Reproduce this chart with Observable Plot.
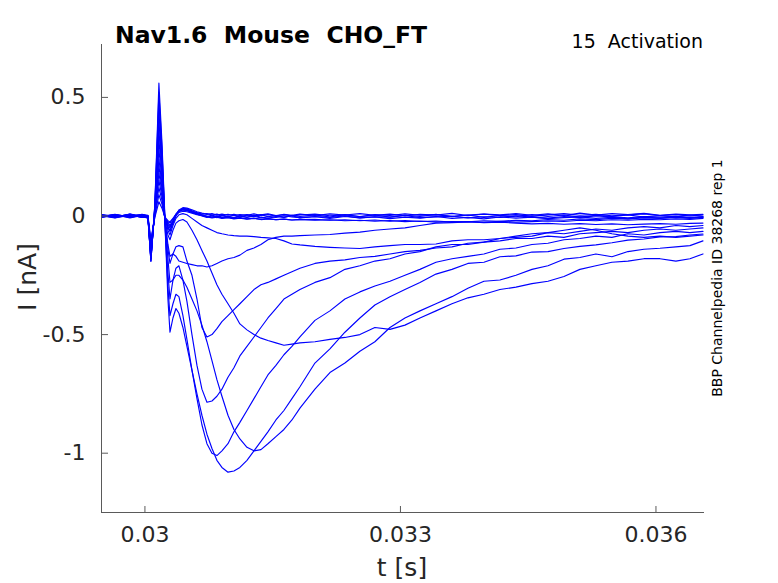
<!DOCTYPE html>
<html><head><meta charset="utf-8">
<script src="https://cdn.jsdelivr.net/npm/d3@7"></script>
<script src="https://cdn.jsdelivr.net/npm/@observablehq/plot@0.6"></script>
<style>body{margin:0;background:#fff}</style>
</head><body><div id="chart"></div>
<script>
// time samples (s)
const tGrid = [0.029483, 0.029648, 0.029824, 0.029965,
  0.030035, 0.030070, 0.030117, 0.030164, 0.030200, 0.030235, 0.030270, 0.030294, 0.030329, 0.030364, 0.030399, 0.030446, 0.030493,
  0.030552, 0.030611, 0.030669, 0.030728, 0.030787, 0.030845, 0.030904, 0.030975, 0.031045, 0.031115, 0.031198, 0.031280, 0.031362, 0.031444, 0.031538, 0.031632, 0.031726, 0.031820,
  0.031996, 0.032172, 0.032348, 0.032524, 0.032700, 0.032877, 0.033053, 0.033229, 0.033417, 0.033605, 0.033792, 0.033980, 0.034168, 0.034356, 0.034544, 0.034732, 0.034920, 0.035107, 0.035295, 0.035483, 0.035671, 0.035859, 0.036047, 0.036234, 0.036399, 0.036552];

// current sweeps (nA)
const sweep01 = [0.004, -0.006, 0.008, -0.003,
  0.002, -0.100, -0.005, 0.060, 0.033, -0.005, -0.020, -0.025, -0.010, 0.005, 0.015, 0.020, 0.018,
  0.012, 0.006, 0.002, -0.003, 0.004, -0.002, 0.005, -0.004, 0.003, -0.005, 0.004, -0.002, 0.006, -0.003, 0.002, -0.006, 0.003, -0.002,
  0.005, -0.004, 0.006, -0.003, 0.004, -0.005, 0.003, -0.002, 0.007, -0.003, 0.004, -0.006, 0.002, -0.003, 0.006, -0.002, 0.004, -0.005, 0.003, -0.002, 0.005, -0.004, 0.002, -0.003, 0.004, -0.002];
const sweep02 = [-0.003, 0.005, -0.008, 0.002,
  -0.004, -0.110, 0.000, 0.090, 0.050, -0.010, -0.025, -0.030, -0.012, 0.008, 0.020, 0.026, 0.022,
  0.015, 0.008, 0.000, -0.006, 0.002, -0.007, 0.001, -0.004, -0.009, 0.000, -0.006, 0.003, -0.005, -0.010, -0.002, -0.006, 0.001, -0.008,
  -0.003, -0.010, -0.002, -0.008, -0.004, -0.011, -0.005, -0.009, -0.002, -0.010, -0.006, -0.012, -0.004, -0.009, -0.005, -0.011, -0.007, -0.004, -0.010, -0.006, -0.012, -0.005, -0.009, -0.004, -0.008, -0.006];
const sweep03 = [0.002, -0.004, 0.006, -0.006,
  -0.002, -0.120, 0.008, 0.120, 0.066, -0.010, -0.030, -0.040, -0.020, 0.005, 0.020, 0.028, 0.025,
  0.018, 0.010, 0.004, 0.000, -0.004, -0.002, -0.008, -0.006, -0.010, -0.007, -0.012, -0.009, -0.014, -0.011, -0.015, -0.013, -0.017, -0.014,
  -0.018, -0.016, -0.020, -0.018, -0.022, -0.019, -0.024, -0.021, -0.026, -0.023, -0.025, -0.027, -0.022, -0.026, -0.024, -0.021, -0.023, -0.018, -0.020, -0.016, -0.018, -0.014, -0.016, -0.012, -0.014, -0.010];
const sweep04 = [-0.006, 0.003, -0.002, 0.007,
  0.003, -0.130, 0.012, 0.150, 0.083, -0.010, -0.035, -0.045, -0.020, 0.008, 0.024, 0.032, 0.030,
  0.022, 0.014, 0.008, 0.010, 0.004, 0.008, 0.002, 0.007, 0.001, 0.006, 0.003, 0.009, 0.002, 0.006, 0.000, 0.007, 0.003, 0.008,
  0.002, 0.009, 0.004, 0.010, 0.003, 0.008, 0.001, 0.007, 0.004, 0.011, 0.002, 0.008, 0.005, 0.010, 0.003, 0.009, 0.002, 0.012, 0.004, 0.010, 0.006, 0.011, 0.003, 0.008, 0.005, 0.007];
const sweep05 = [0.001, -0.008, 0.003, -0.001,
  -0.006, -0.140, 0.014, 0.180, 0.100, -0.015, -0.040, -0.050, -0.025, 0.005, 0.022, 0.030, 0.028,
  0.020, 0.012, 0.005, -0.002, -0.005, 0.001, -0.006, -0.002, -0.007, 0.000, -0.005, -0.001, -0.008, -0.003, -0.006, 0.001, -0.004, -0.007,
  -0.002, -0.006, 0.000, -0.008, -0.003, -0.005, 0.002, -0.007, -0.004, -0.001, -0.008, -0.003, -0.006, 0.001, -0.005, -0.009, -0.002, -0.006, 0.000, -0.004, -0.008, -0.002, -0.005, -0.001, -0.006, -0.003];
const sweep06 = [-0.001, 0.007, -0.005, 0.002,
  -0.003, -0.150, 0.018, 0.210, 0.116, -0.015, -0.045, -0.060, -0.030, 0.000, 0.018, 0.026, 0.024,
  0.016, 0.008, 0.002, -0.004, -0.008, -0.005, -0.010, -0.007, -0.012, -0.009, -0.013, -0.010, -0.015, -0.012, -0.016, -0.013, -0.017, -0.015,
  -0.014, -0.018, -0.016, -0.020, -0.017, -0.022, -0.019, -0.023, -0.021, -0.026, -0.024, -0.028, -0.026, -0.030, -0.033, -0.031, -0.035, -0.032, -0.036, -0.033, -0.037, -0.034, -0.032, -0.035, -0.031, -0.030];
const sweep07 = [0.006, -0.002, 0.004, -0.005,
  0.001, -0.160, 0.020, 0.240, 0.132, -0.015, -0.050, -0.065, -0.030, 0.002, 0.025, 0.035, 0.033,
  0.026, 0.018, 0.012, 0.007, 0.010, 0.004, 0.008, 0.003, 0.007, 0.002, 0.006, 0.001, 0.005, 0.009, 0.002, 0.006, 0.000, 0.004,
  0.008, 0.001, 0.005, -0.002, 0.006, 0.002, 0.009, 0.003, 0.006, -0.001, 0.004, 0.008, 0.002, 0.006, -0.002, 0.005, 0.010, 0.003, 0.007, 0.001, 0.005, 0.009, 0.002, 0.006, 0.000, 0.004];
const sweep08 = [0.006, -0.002, 0.004, -0.006,
  -0.005, -0.160, 0.024, 0.280, 0.154, -0.020, -0.080, -0.100, -0.060, -0.030, -0.020, -0.015, -0.025,
  -0.060, -0.100, -0.145, -0.190, -0.240, -0.290, -0.330, -0.370, -0.410, -0.455, -0.480, -0.500, -0.515, -0.525, -0.535, -0.545, -0.540, -0.535,
  -0.530, -0.520, -0.512, -0.500, -0.470, -0.478, -0.460, -0.430, -0.400, -0.370, -0.345, -0.330, -0.310, -0.300, -0.285, -0.275, -0.255, -0.225, -0.210, -0.195, -0.190, -0.180, -0.180, -0.190, -0.180, -0.160];
const sweep09 = [-0.004, 0.006, -0.003, 0.004,
  0.000, -0.170, 0.028, 0.320, 0.176, -0.020, -0.180, -0.280, -0.270, -0.250, -0.250, -0.270, -0.300,
  -0.350, -0.400, -0.460, -0.530, -0.610, -0.690, -0.760, -0.840, -0.900, -0.940, -0.975, -0.990, -0.985, -0.960, -0.930, -0.900, -0.860, -0.810,
  -0.730, -0.660, -0.620, -0.570, -0.530, -0.470, -0.430, -0.400, -0.370, -0.340, -0.305, -0.275, -0.270, -0.250, -0.225, -0.210, -0.182, -0.175, -0.160, -0.172, -0.150, -0.140, -0.136, -0.130, -0.125, -0.105];
const sweep10 = [0.005, -0.005, 0.008, 0.000,
  -0.010, -0.180, 0.032, 0.360, 0.198, -0.030, -0.350, -0.490, -0.430, -0.390, -0.410, -0.470, -0.550,
  -0.650, -0.750, -0.840, -0.920, -0.980, -1.030, -1.060, -1.080, -1.075, -1.060, -1.030, -0.990, -0.950, -0.910, -0.860, -0.820, -0.770, -0.720,
  -0.620, -0.560, -0.490, -0.430, -0.375, -0.340, -0.310, -0.280, -0.245, -0.225, -0.200, -0.195, -0.172, -0.168, -0.152, -0.150, -0.137, -0.128, -0.122, -0.113, -0.102, -0.097, -0.088, -0.087, -0.080, -0.076];
const sweep11 = [-0.006, 0.004, 0.000, 0.006,
  0.000, -0.180, 0.036, 0.400, 0.220, -0.030, -0.300, -0.420, -0.370, -0.330, -0.340, -0.420, -0.520,
  -0.650, -0.770, -0.880, -0.960, -1.000, -1.010, -0.990, -0.960, -0.910, -0.870, -0.820, -0.770, -0.720, -0.670, -0.630, -0.585, -0.550, -0.510,
  -0.440, -0.400, -0.350, -0.320, -0.295, -0.275, -0.250, -0.225, -0.195, -0.180, -0.170, -0.160, -0.140, -0.135, -0.120, -0.115, -0.100, -0.095, -0.085, -0.090, -0.075, -0.080, -0.070, -0.065, -0.070, -0.065];
const sweep12 = [0.003, -0.007, 0.005, -0.002,
  -0.005, -0.180, 0.040, 0.440, 0.242, -0.030, -0.240, -0.350, -0.270, -0.220, -0.210, -0.270, -0.360,
  -0.500, -0.630, -0.730, -0.785, -0.780, -0.760, -0.730, -0.680, -0.640, -0.590, -0.550, -0.510, -0.470, -0.430, -0.390, -0.350, -0.330, -0.310,
  -0.280, -0.260, -0.225, -0.210, -0.190, -0.180, -0.160, -0.150, -0.130, -0.120, -0.120, -0.110, -0.105, -0.095, -0.095, -0.085, -0.090, -0.075, -0.070, -0.065, -0.070, -0.060, -0.055, -0.060, -0.055, -0.050];
const sweep13 = [-0.002, 0.005, -0.006, 0.003,
  0.000, -0.190, 0.044, 0.480, 0.264, -0.020, -0.140, -0.200, -0.160, -0.130, -0.125, -0.130, -0.190,
  -0.250, -0.350, -0.470, -0.510, -0.500, -0.475, -0.445, -0.420, -0.395, -0.370, -0.340, -0.310, -0.290, -0.280, -0.265, -0.250, -0.235, -0.220,
  -0.200, -0.190, -0.185, -0.175, -0.170, -0.160, -0.150, -0.145, -0.135, -0.130, -0.115, -0.110, -0.095, -0.090, -0.085, -0.070, -0.075, -0.065, -0.055, -0.060, -0.050, -0.045, -0.050, -0.040, -0.045, -0.040];
const sweep14 = [0.004, -0.003, 0.007, -0.004,
  -0.005, -0.190, 0.048, 0.520, 0.286, -0.020, -0.120, -0.170, -0.160, -0.170, -0.190, -0.195, -0.200,
  -0.205, -0.210, -0.210, -0.215, -0.210, -0.200, -0.190, -0.180, -0.175, -0.165, -0.145, -0.135, -0.120, -0.100, -0.090, -0.085, -0.085, -0.083,
  -0.080, -0.078, -0.072, -0.068, -0.060, -0.055, -0.050, -0.040, -0.030, -0.028, -0.025, -0.020, -0.022, -0.018, -0.020, -0.015, -0.018, -0.012, -0.015, -0.010, -0.012, -0.008, -0.010, -0.006, -0.010, -0.005];
const sweep15 = [-0.005, 0.004, -0.002, 0.006,
  0.000, -0.190, 0.052, 0.560, 0.308, -0.010, -0.060, -0.080, -0.040, -0.010, 0.005, 0.010, 0.005,
  -0.010, -0.025, -0.040, -0.050, -0.060, -0.070, -0.075, -0.080, -0.083, -0.085, -0.085, -0.087, -0.090, -0.092, -0.095, -0.105, -0.118, -0.122,
  -0.128, -0.132, -0.135, -0.137, -0.130, -0.125, -0.120, -0.120, -0.118, -0.105, -0.100, -0.100, -0.095, -0.085, -0.075, -0.070, -0.060, -0.050, -0.060, -0.075, -0.085, -0.090, -0.085, -0.090, -0.085, -0.080];

const sweeps = [sweep01, sweep02, sweep03, sweep04, sweep05, sweep06, sweep07, sweep08,
  sweep09, sweep10, sweep11, sweep12, sweep13, sweep14, sweep15];

const xTicks = [0.03, 0.033, 0.036];
const yTicks = [0.5, 0, -0.5, -1];
const xDomain = [0.02949, 0.03657];
const yDomain = [-1.25, 0.723];

const titleText = "Nav1.6  Mouse  CHO_FT";
const protocolText = "15  Activation";
const sideText = "BBP Channelpedia ID 38268 rep 1";
const xLabel = "t [s]";
const yLabel = "I [nA]";

const rows = sweeps.flatMap((s, k) => s.map((v, i) => ({t: tGrid[i], I: v, sweep: k})));

const axisColor = "#5a5a5a";
const textColor = "#262626";

const chart = Plot.plot({
  width: 778, height: 583,
  marginLeft: 101, marginRight: 74, marginTop: 44, marginBottom: 71,
  x: {domain: xDomain},
  y: {domain: yDomain},
  style: {fontFamily: "DejaVu Sans", fontSize: "22px", color: textColor, background: "white"},
  marks: [
    Plot.line(rows, {x: "t", y: "I", z: "sweep", stroke: "#0000ff", strokeWidth: 1.15, clip: true}),
    Plot.ruleX([xDomain[0]], {stroke: axisColor, strokeWidth: 1}),
    Plot.ruleY([yDomain[0]], {stroke: axisColor, strokeWidth: 1}),
    Plot.axisX({ticks: xTicks, tickSize: -6, tickPadding: 20, tickFormat: d => String(d), label: null, stroke: axisColor, fill: textColor, fontSize: 22}),
    Plot.axisY({ticks: yTicks, tickSize: -7, tickPadding: 23, tickFormat: d => String(d), label: null, stroke: axisColor, fill: textColor, fontSize: 22})
  ]
});

const svg = d3.select(chart);
svg.append("text").attr("x", 115).attr("y", 42.5).attr("text-anchor", "start")
  .attr("font-weight", "bold").attr("font-size", 23.5).attr("fill", "#000")
  .style("white-space", "pre").text(titleText);
svg.append("text").attr("x", 703).attr("y", 48).attr("text-anchor", "end")
  .attr("font-size", 19).attr("fill", "#000")
  .style("white-space", "pre").text(protocolText);
svg.append("text").attr("transform", "translate(722,278) rotate(-90)").attr("text-anchor", "middle")
  .attr("font-size", 14).attr("fill", "#000").text(sideText);
svg.append("text").attr("x", 402).attr("y", 576).attr("text-anchor", "middle")
  .attr("font-size", 25).attr("fill", textColor).text(xLabel);
svg.append("text").attr("transform", "translate(36,277) rotate(-90)").attr("text-anchor", "middle")
  .attr("font-size", 25).attr("fill", textColor).text(yLabel);

document.getElementById("chart").appendChild(chart);
</script>
</body></html>
